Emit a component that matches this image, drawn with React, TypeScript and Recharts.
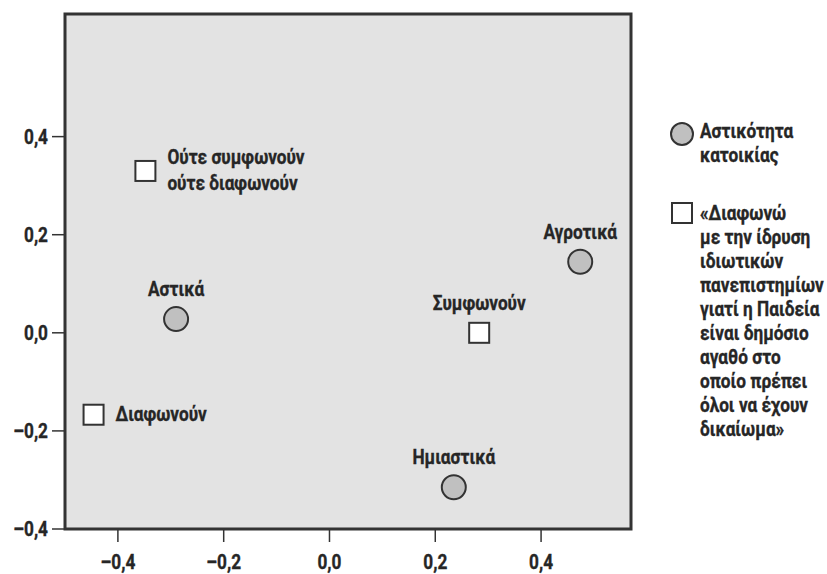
import React from "react";
import { ScatterChart, Scatter, XAxis, YAxis, ReferenceArea } from "recharts";

// urbanity of residence (circles)
const urbanNames = ["Αστικά", "Ημιαστικά", "Αγροτικά"];
const urbanX = [-0.29, 0.235, 0.474];
const urbanY = [0.028, -0.315, 0.145];

// attitude towards private universities (squares)
const opinionNames = ["Ούτε συμφωνούν\nούτε διαφωνούν", "Συμφωνούν", "Διαφωνούν"];
const opinionX = [-0.348, 0.283, -0.446];
const opinionY = [0.33, 0.0, -0.167];

const xTicks = [-0.4, -0.2, 0, 0.2, 0.4];
const yTicks = [-0.4, -0.2, 0, 0.2, 0.4];

const legendCircle = ["Αστικότητα", "κατοικίας"];
const legendSquare = [
  "«Διαφωνώ",
  "με την ίδρυση",
  "ιδιωτικών",
  "πανεπιστημίων",
  "γιατί η Παιδεία",
  "είναι δημόσιο",
  "αγαθό στο",
  "οποίο πρέπει",
  "όλοι να έχουν",
  "δικαίωμα»",
];

// where each point label sits
const labelSide: Record<string, "top" | "right"> = {
  "Αστικά": "top",
  "Ημιαστικά": "top",
  "Αγροτικά": "top",
  "Ούτε συμφωνούν\nούτε διαφωνούν": "right",
  "Συμφωνούν": "top",
  "Διαφωνούν": "right",
};

const urbanData = urbanNames.map((name, i) => ({ name, x: urbanX[i], y: urbanY[i] }));
const opinionData = opinionNames.map((name, i) => ({ name, x: opinionX[i], y: opinionY[i] }));

const X_DOMAIN = [-0.5, 0.57];
const Y_DOMAIN = [-0.4, 0.65];

const FONT = "Roboto, 'Liberation Sans', sans-serif";
const INK = "#262626";
const SQUEEZE = 0.82; // fake a condensed face
const fmt = (v: number) => (v < 0 ? "–" : "") + Math.abs(v).toFixed(1).replace(".", ",");

// condensed bold text, (x, y) is the anchor point, y is the vertical centre
function CText({
  x,
  y,
  anchor = "start",
  children,
}: {
  x: number;
  y: number;
  anchor?: "start" | "middle" | "end";
  children: React.ReactNode;
}) {
  return (
    <text
      transform={`translate(${x},${y}) scale(${SQUEEZE},1)`}
      textAnchor={anchor}
      dominantBaseline="central"
      fill={INK}
      fontFamily={FONT}
      fontWeight={700}
      fontSize={21}
      stroke={INK}
      strokeWidth={0.35}
    >
      {children}
    </text>
  );
}

const XTick = (props: any) => (
  <CText x={props.x} y={props.y + 14} anchor="middle">
    {fmt(props.payload.value)}
  </CText>
);

const YTick = (props: any) => (
  <CText x={props.x} y={props.y} anchor="end">
    {fmt(props.payload.value)}
  </CText>
);

function PointLabel({ cx, cy, name }: { cx: number; cy: number; name: string }) {
  const lines = name.split("\n");
  if (labelSide[name] === "top") {
    return (
      <CText x={cx} y={cy - 30} anchor="middle">
        {name}
      </CText>
    );
  }
  const lh = 26;
  const start = cy - ((lines.length - 1) * lh) / 2 - 1;
  return (
    <g>
      {lines.map((l, i) => (
        <CText key={i} x={cx + 22} y={start + i * lh}>
          {l}
        </CText>
      ))}
    </g>
  );
}

const CircleShape = (props: any) => {
  const { cx, cy, payload } = props;
  return (
    <g>
      <circle cx={cx} cy={cy} r={12} fill="#c0c0c0" stroke="#333" strokeWidth={2} />
      <PointLabel cx={cx} cy={cy} name={payload.name} />
    </g>
  );
};

const SquareShape = (props: any) => {
  const { cx, cy, payload } = props;
  return (
    <g>
      <rect x={cx - 10} y={cy - 10} width={20} height={20} fill="#fff" stroke="#333" strokeWidth={2} />
      <PointLabel cx={cx} cy={cy} name={payload.name} />
    </g>
  );
};

function LegendBox() {
  const lh = 24;
  return (
    <svg width={162} height={340} style={{ position: "absolute", left: 665, top: 115 }}>
      <circle cx={17} cy={19} r={11} fill="#c0c0c0" stroke="#333" strokeWidth={2} />
      {legendCircle.map((l, i) => (
        <CText key={l} x={35} y={16 + i * lh}>
          {l}
        </CText>
      ))}
      <rect x={7} y={88} width={20} height={20} fill="#fff" stroke="#333" strokeWidth={2} />
      {legendSquare.map((l, i) => (
        <CText key={l} x={35} y={98 + i * lh}>
          {l}
        </CText>
      ))}
    </svg>
  );
}

export default function App() {
  return (
    <div style={{ position: "absolute", left: 0, top: 0, width: 827, height: 574, background: "#fff" }}>
      <ScatterChart width={827} height={574} margin={{ top: 14, right: 196, bottom: 0, left: 0 }}>
        <XAxis
          type="number"
          dataKey="x"
          domain={X_DOMAIN}
          ticks={xTicks}
          height={45}
          axisLine={false}
          tickSize={13}
          tickMargin={6}
          tickLine={{ stroke: "#333", strokeWidth: 1.5 }}
          tick={<XTick />}
        />
        <YAxis
          type="number"
          dataKey="y"
          domain={Y_DOMAIN}
          ticks={yTicks}
          width={65}
          axisLine={false}
          tickSize={13}
          tickMargin={4}
          tickLine={{ stroke: "#333", strokeWidth: 1.5 }}
          tick={<YTick />}
        />
        <ReferenceArea
          x1={X_DOMAIN[0]}
          x2={X_DOMAIN[1]}
          y1={Y_DOMAIN[0]}
          y2={Y_DOMAIN[1]}
          fill="#e3e3e3"
          fillOpacity={1}
          stroke="#333"
          strokeWidth={3}
        />
        <Scatter data={urbanData} shape={CircleShape} isAnimationActive={false} />
        <Scatter data={opinionData} shape={SquareShape} isAnimationActive={false} />
      </ScatterChart>
      <LegendBox />
    </div>
  );
}
